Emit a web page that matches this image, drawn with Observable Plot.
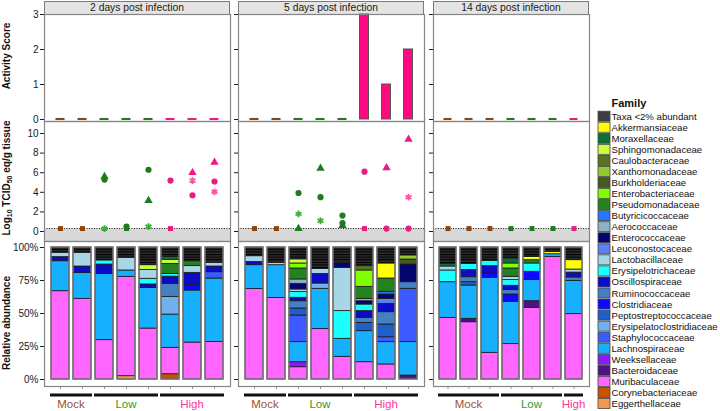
<!DOCTYPE html>
<html><head><meta charset="utf-8">
<script src="https://cdn.jsdelivr.net/npm/d3@7"></script>
<script src="https://cdn.jsdelivr.net/npm/@observablehq/plot@0.6"></script>
<style>
body{margin:0;background:#fff;font-family:"Liberation Sans",Arial,Helvetica,sans-serif}
#root{position:relative;width:720px;height:411px;overflow:hidden;background:#fff}
.strip{position:absolute;box-sizing:border-box;background:#e4e4e4;border:1px solid #7a7a7a;font-size:10.3px;line-height:11px;text-align:center;color:#1a1a1a}
.ylab{position:absolute;font-weight:bold;font-size:10px;text-align:center;color:#111;transform:rotate(-90deg);white-space:nowrap;line-height:12px}
.ylab sub{font-size:7px;vertical-align:-2px;line-height:0}
</style></head>
<body>
<svg width="0" height="0" style="position:absolute">
  <defs>
    <pattern id="taxaStripes" patternUnits="userSpaceOnUse" width="6" height="2.6">
      <rect width="6" height="2.6" fill="#2e2e2e"></rect>
      <rect width="6" height="1.1" fill="#000000"></rect>
    </pattern>
  </defs>
</svg>
<div id="root"></div>
<script>
// ---------------- data ----------------
const days = ["2 days post infection", "5 days post infection", "14 days post infection"];
const groupsD2 = ["Mock","Mock","Low","Low","Low","High","High","High"];
const groupsD5 = ["Mock","Mock","Low","Low","Low","High","High","High"];
const groupsD14 = ["Mock","Mock","Mock","Low","Low","Low","High"];

const activityD2 = [0,0,0,0,0,0,0,0];
const activityD5 = [0,0,0,0,0,3,1,2];
const activityD14 = [0,0,0,0,0,0,0];

const LOD = 0.3;
// [sample, symbol, log10 TCID50 eq/g]
const virusD2 = [
  [1,"square",0.3],[2,"square",0.3],
  [3,"triangle",5.6],[3,"circle",5.3],[3,"asterisk",0.3],
  [4,"circle",0.5],[4,"square",0.3],
  [5,"circle",6.3],[5,"triangle",3.15],[5,"asterisk",0.5],
  [6,"circle",5.2],[6,"square",0.3],
  [7,"triangle",6.0],[7,"asterisk",5.2],[7,"circle",3.7],
  [8,"triangle",7.05],[8,"circle",5.1],[8,"asterisk",4.05]
];
const virusD5 = [
  [1,"square",0.3],[2,"square",0.3],
  [3,"circle",3.93],[3,"asterisk",1.8],[3,"triangle",0.3],
  [4,"triangle",6.44],[4,"circle",3.5],[4,"asterisk",1.1],
  [5,"circle",1.63],[5,"circle",0.85],[5,"triangle",0.6],
  [6,"circle",6.1],[6,"square",0.3],
  [7,"triangle",6.5],[7,"circle",0.3],
  [8,"triangle",9.4],[8,"asterisk",3.5],[8,"circle",0.3]
];
const virusD14 = [
  [1,"square",0.3],[2,"square",0.3],[3,"square",0.3],[4,"square",0.3],
  [5,"square",0.3],[6,"square",0.3],[7,"square",0.3]
];

// stacking order, bottom to top
const families = ["Eggerthellaceae","Corynebacteriaceae","Muribaculaceae","Bacteroidaceae","Weeksellaceae",
  "Lachnospiraceae","Staphylococcaceae","Erysipelatoclostridiaceae","Peptostreptococcaceae","Clostridiaceae",
  "Ruminococcaceae","Oscillospiraceae","Erysipelotrichaceae","Lactobacillaceae","Leuconostocaceae",
  "Enterococcaceae","Aerococcaceae","Butyricicoccaceae","Pseudomonadaceae","Enterobacteriaceae",
  "Burkholderiaceae","Xanthomonadaceae","Caulobacteraceae","Sphingomonadaceae","Moraxellaceae",
  "Akkermansiaceae","Taxa <2% abundant"];
const familyColors = ["#f4984f","#c75200","#ff66ff","#4b1480","#8c19ff",
  "#17b0ff","#3c5aff","#72b0ec","#1f5fc8","#0a0aff",
  "#4580c2","#0c0cc4","#1cffff","#a8d6e6","#5a83ec",
  "#050570","#8fb1c2","#2278ff","#22821e","#80ff00",
  "#435a22","#96c832","#587420","#c8ff40","#0e7038",
  "#ffff00","#3f3f3f"];

const abundD2 = [
  [["Muribaculaceae",66.9],["Lachnospiraceae",22.7],["Oscillospiraceae",3.1],["Lactobacillaceae",3.3],["Taxa <2% abundant",4.0]],
  [["Muribaculaceae",61.1],["Lachnospiraceae",19.5],["Oscillospiraceae",5.0],["Lactobacillaceae",10.4],["Taxa <2% abundant",4.0]],
  [["Muribaculaceae",29.8],["Lachnospiraceae",50.2],["Oscillospiraceae",7.1],["Erysipelotrichaceae",3.1],["Taxa <2% abundant",9.8]],
  [["Eggerthellaceae",2.5],["Muribaculaceae",75.3],["Lachnospiraceae",4.8],["Lactobacillaceae",9.6],["Taxa <2% abundant",7.8]],
  [["Muribaculaceae",38.6],["Lachnospiraceae",30.8],["Oscillospiraceae",2.6],["Erysipelotrichaceae",4.3],["Lactobacillaceae",6.7],["Sphingomonadaceae",3.6],["Taxa <2% abundant",13.4]],
  [["Corynebacteriaceae",4.0],["Muribaculaceae",20.0],["Lachnospiraceae",25.2],["Erysipelatoclostridiaceae",13.4],["Ruminococcaceae",9.9],["Oscillospiraceae",5.4],["Erysipelotrichaceae",2.1],["Pseudomonadaceae",7.6],["Sphingomonadaceae",3.1],["Moraxellaceae",2.0],["Taxa <2% abundant",7.3]],
  [["Muribaculaceae",28.0],["Lachnospiraceae",39.4],["Clostridiaceae",4.1],["Oscillospiraceae",9.3],["Lactobacillaceae",5.1],["Pseudomonadaceae",3.7],["Taxa <2% abundant",10.4]],
  [["Muribaculaceae",28.5],["Lachnospiraceae",48.0],["Staphylococcaceae",4.8],["Oscillospiraceae",4.3],["Lactobacillaceae",2.8],["Taxa <2% abundant",11.6]]
];
const abundD5 = [
  [["Muribaculaceae",68.5],["Lachnospiraceae",18.1],["Oscillospiraceae",2.5],["Lactobacillaceae",4.3],["Taxa <2% abundant",6.6]],
  [["Muribaculaceae",61.8],["Lachnospiraceae",24.8],["Lactobacillaceae",1.8],["Taxa <2% abundant",11.6]],
  [["Muribaculaceae",9.3],["Weeksellaceae",3.8],["Lachnospiraceae",15.2],["Staphylococcaceae",20.2],["Peptostreptococcaceae",5.3],["Ruminococcaceae",5.5],["Oscillospiraceae",2.6],["Erysipelotrichaceae",4.3],["Lactobacillaceae",2.0],["Enterococcaceae",4.3],["Aerococcaceae",3.3],["Pseudomonadaceae",8.3],["Enterobacteriaceae",3.8],["Sphingomonadaceae",3.1],["Taxa <2% abundant",9.0]],
  [["Muribaculaceae",38.3],["Lachnospiraceae",30.4],["Erysipelatoclostridiaceae",4.0],["Oscillospiraceae",7.3],["Lactobacillaceae",3.8],["Taxa <2% abundant",16.2]],
  [["Muribaculaceae",17.2],["Lachnospiraceae",13.6],["Erysipelotrichaceae",21.0],["Lactobacillaceae",32.8],["Enterococcaceae",3.8],["Taxa <2% abundant",11.6]],
  [["Muribaculaceae",13.1],["Lachnospiraceae",23.5],["Peptostreptococcaceae",6.3],["Ruminococcaceae",3.8],["Oscillospiraceae",5.1],["Erysipelotrichaceae",5.0],["Enterococcaceae",2.5],["Aerococcaceae",1.8],["Pseudomonadaceae",9.1],["Enterobacteriaceae",12.4],["Caulobacteraceae",3.3],["Taxa <2% abundant",14.1]],
  [["Muribaculaceae",11.4],["Lachnospiraceae",16.9],["Staphylococcaceae",3.7],["Peptostreptococcaceae",9.7],["Ruminococcaceae",9.3],["Oscillospiraceae",6.3],["Leuconostocaceae",3.8],["Enterococcaceae",3.3],["Butyricicoccaceae",2.0],["Pseudomonadaceae",10.1],["Akkermansiaceae",11.4],["Taxa <2% abundant",12.1]],
  [["Bacteroidaceae",3.0],["Lachnospiraceae",25.3],["Staphylococcaceae",40.4],["Ruminococcaceae",5.0],["Enterococcaceae",13.4],["Burkholderiaceae",3.8],["Xanthomonadaceae",3.1],["Taxa <2% abundant",6.0]]
];
const abundD14 = [
  [["Muribaculaceae",46.7],["Lachnospiraceae",27.0],["Erysipelotrichaceae",8.9],["Lactobacillaceae",3.0],["Moraxellaceae",2.0],["Taxa <2% abundant",12.4]],
  [["Muribaculaceae",43.4],["Bacteroidaceae",2.6],["Lachnospiraceae",25.2],["Peptostreptococcaceae",2.5],["Ruminococcaceae",3.8],["Oscillospiraceae",5.5],["Erysipelotrichaceae",4.6],["Taxa <2% abundant",12.4]],
  [["Muribaculaceae",20.2],["Lachnospiraceae",56.8],["Clostridiaceae",3.3],["Oscillospiraceae",5.6],["Erysipelotrichaceae",4.0],["Taxa <2% abundant",10.1]],
  [["Muribaculaceae",26.8],["Lachnospiraceae",32.0],["Clostridiaceae",5.6],["Ruminococcaceae",3.3],["Oscillospiraceae",3.3],["Erysipelotrichaceae",4.3],["Lactobacillaceae",2.5],["Pseudomonadaceae",6.3],["Enterobacteriaceae",3.8],["Moraxellaceae",3.8],["Taxa <2% abundant",8.3]],
  [["Muribaculaceae",54.3],["Bacteroidaceae",5.0],["Lachnospiraceae",16.0],["Clostridiaceae",6.3],["Erysipelotrichaceae",6.3],["Pseudomonadaceae",2.5],["Akkermansiaceae",2.5],["Taxa <2% abundant",7.1]],
  [["Muribaculaceae",92.9],["Lachnospiraceae",2.0],["Akkermansiaceae",1.8],["Taxa <2% abundant",3.3]],
  [["Muribaculaceae",49.5],["Lachnospiraceae",25.2],["Ruminococcaceae",2.6],["Oscillospiraceae",3.7],["Lactobacillaceae",2.3],["Akkermansiaceae",7.1],["Taxa <2% abundant",9.6]]
];

const groupNames = ["Mock","Low","High"];
const groupColors = ["#8b4513","#1e7b1e","#ec1a85"];
const groupLightColors = ["#8b4513","#37b137","#ff4fa7"];
const groupTextColors = ["#a0522d","#2f9a2f","#ff3399"];

// ---------------- layout ----------------
const FONT = '"Liberation Sans", Arial, Helvetica, sans-serif';
const root = document.getElementById("root");
const cols = [{x0:44,x1:230},{x0:238,x1:424},{x0:433,x1:589}];
const rowAct = {y0:14, y1:121}, rowVir = {y0:121, y1:241}, rowAb = {y0:241, y1:386};
const groupsByDay = [groupsD2, groupsD5, groupsD14];
const activityByDay = [activityD2, activityD5, activityD14];
const virusByDay = [virusD2, virusD5, virusD14];
const abundByDay = [abundD2, abundD5, abundD14];
const fillColors = familyColors.map((c, i) => families[i] === "Taxa <2% abundant" ? "url(#taxaStripes)" : c);
const gColor = g => groupColors[groupNames.indexOf(g)];
const gLight = g => groupLightColors[groupNames.indexOf(g)];

function place(svg, left, top) {
  svg.style.position = "absolute";
  svg.style.left = left + "px";
  svg.style.top = top + "px";
  svg.style.overflow = "visible";
  svg.style.background = "transparent";
  svg.style.maxWidth = "none";
  root.appendChild(svg);
}
const baseStyle = {fontFamily: FONT, fontSize: "10px", color: "#1a1a1a", background: "transparent", overflow: "visible"};
const frameMark = () => Plot.frame({stroke: "#858585", strokeWidth: 1.2});

days.forEach((day, c) => {
  const {x0, x1} = cols[c];
  const W = x1 - x0;
  const groups = groupsByDay[c];
  const ids = groups.map((g, i) => String(i + 1));
  const first = c === 0;
  const fmt = f => first ? f : () => "";

  // strip header
  const strip = document.createElement("div");
  strip.className = "strip";
  Object.assign(strip.style, {left: x0 + "px", top: "1px", width: W + "px", height: "14px"});
  strip.textContent = day;
  root.appendChild(strip);

  // activity score
  const actRows = activityByDay[c].map((v, i) => ({id: ids[i], group: groups[i], score: v}));
  const pAct = Plot.plot({
    width: W, height: rowAct.y1 - rowAct.y0,
    marginLeft: 0, marginRight: 0, marginTop: 0, marginBottom: 0,
    style: baseStyle,
    x: {type: "band", domain: ids, padding: 0.17, axis: null},
    y: {domain: [0, 3], range: [105, 0], ticks: [0, 1, 2, 3], tickSize: 4, tickPadding: 2, tickFormat: fmt(d => String(d)), label: null},
    marks: [
      Plot.barY(actRows.filter(d => d.score > 0), {x: "id", y: "score", fill: "#ff0a80", stroke: "#555", strokeWidth: 1, insetLeft: 4.5, insetRight: 4.5}),
      Plot.barY(actRows.filter(d => d.score === 0), {x: "id", y1: -0.03, y2: 0.03, fill: d => gColor(d.group), insetLeft: 4.5, insetRight: 4.5}),
      frameMark()
    ]
  });
  place(pAct, x0, rowAct.y0);

  // virus
  const virRows = virusByDay[c].map(([s, shape, v]) => ({id: String(s), group: groups[s - 1], shape, v}));
  const dotMarks = ["square", "circle", "triangle"].map(sh =>
    Plot.dot(virRows.filter(d => d.shape === sh), {x: "id", y: "v", symbol: sh, r: sh === "square" ? 2.8 : 3.1, fill: d => gColor(d.group), stroke: "none"}));
  const pVir = Plot.plot({
    width: W, height: rowVir.y1 - rowVir.y0,
    marginLeft: 0, marginRight: 0, marginTop: 0, marginBottom: 0,
    style: baseStyle,
    x: {type: "band", domain: ids, padding: 0.17, axis: null},
    y: {domain: [0, 10], range: [110, 12], ticks: [0, 2, 4, 6, 8, 10], tickSize: 4, tickPadding: 2, tickFormat: fmt(d => String(d)), label: null},
    marks: [
      Plot.barY([0], {y1: -1.05, y2: LOD, fill: "#d9d9d9"}),
      Plot.ruleY([LOD], {stroke: "#222", strokeWidth: 1, strokeDasharray: "1,1.5"}),
      ...dotMarks,
      Plot.dot(virRows.filter(d => d.shape === "asterisk"), {x: "id", y: "v", symbol: "asterisk", r: 3.2, stroke: d => gLight(d.group), strokeWidth: 1.8}),
      frameMark()
    ]
  });
  place(pVir, x0, rowVir.y0);

  // relative abundance
  const abRows = [];
  abundByDay[c].forEach((segs, i) => {
    segs.slice().sort((a, b) => families.indexOf(a[0]) - families.indexOf(b[0]))
      .forEach(([f, v]) => abRows.push({id: ids[i], family: f, value: v}));
  });
  const totals = Array.from(d3.rollup(abRows, v => d3.sum(v, d => d.value), d => d.id), ([id, value]) => ({id, value}));
  const pAb = Plot.plot({
    width: W, height: rowAb.y1 - rowAb.y0,
    marginLeft: 0, marginRight: 0, marginTop: 0, marginBottom: 0,
    style: baseStyle,
    x: {type: "band", domain: ids, padding: 0.17, axis: "bottom", tickSize: 3, tickPadding: 0, tickFormat: () => "", label: null},
    y: {domain: [0, 100], range: [138, 6], ticks: [0, 25, 50, 75, 100], tickSize: 4, tickPadding: 2, tickFormat: fmt(d => d + "%"), label: null},
    color: {domain: families, range: fillColors},
    marks: [
      Plot.barY(abRows, {x: "id", y: "value", z: "family", fill: "family", order: families, stroke: "#1a1a1a", strokeWidth: 0.8}),
      Plot.barY(totals, {x: "id", y: "value", fill: "none", stroke: "#7a7a7a", strokeWidth: 1.4}),
      frameMark()
    ]
  });
  place(pAb, x0, rowAb.y0);
  d3.select(pAb).selectAll('[aria-label^="x-axis"]').style("color", "#9a9a9a");

  // group lines and labels under the abundance panel, from the band scale
  const xs = pAb.scale("x");
  const gap = (xs.step - xs.bandwidth) / 2;
  const sel = d3.select(pAb);
  groupNames.forEach((g, gi) => {
    const idx = groups.map((gg, i) => gg === g ? i : -1).filter(i => i >= 0);
    if (!idx.length) return;
    const a = xs.apply(ids[idx[0]]) - gap + 1;
    const b = xs.apply(ids[idx[idx.length - 1]]) + xs.bandwidth + gap - 1;
    sel.append("line").attr("x1", a).attr("x2", b).attr("y1", 154).attr("y2", 154)
      .attr("stroke", "#111").attr("stroke-width", 3);
    sel.append("text").attr("x", (a + b) / 2).attr("y", 167).attr("text-anchor", "middle")
      .attr("fill", groupTextColors[gi]).style("font-size", "11.5px").style("font-family", FONT).text(g);
  });
});

// rotated y titles
function ylab(html, cx, cy) {
  const d = document.createElement("div");
  d.className = "ylab";
  d.innerHTML = html;
  const w = 160, h = 12;
  Object.assign(d.style, {left: (cx - w / 2) + "px", top: (cy - h / 2) + "px", width: w + "px", height: h + "px"});
  root.appendChild(d);
}
ylab("Activity Score", 7, 56);
ylab("Log<sub>10</sub> TCID<sub>50</sub> eq/g tissue", 7, 178);
ylab("Relative abundance", 7, 323);

// legend
const leg = d3.select(root).append("svg").attr("width", 130).attr("height", 411)
  .style("position", "absolute").style("left", "590px").style("top", "0px").style("overflow", "visible")
  .style("font-family", FONT);
leg.append("text").attr("x", 21.5).attr("y", 107).attr("font-weight", "bold").attr("font-size", 11).attr("fill", "#111").text("Family");
const legendOrder = families.slice().reverse();
legendOrder.forEach((f, i) => {
  const cy = 116.2 + 11.05 * i;
  leg.append("rect").attr("x", 8).attr("y", cy - 5).attr("width", 12).attr("height", 10)
    .attr("fill", familyColors[families.indexOf(f)]).attr("stroke", "#444").attr("stroke-width", 0.8);
  leg.append("text").attr("x", 21.5).attr("y", cy + 3.5).attr("font-size", 9.6).attr("fill", "#111").text(f);
});
</script>
</body></html>
